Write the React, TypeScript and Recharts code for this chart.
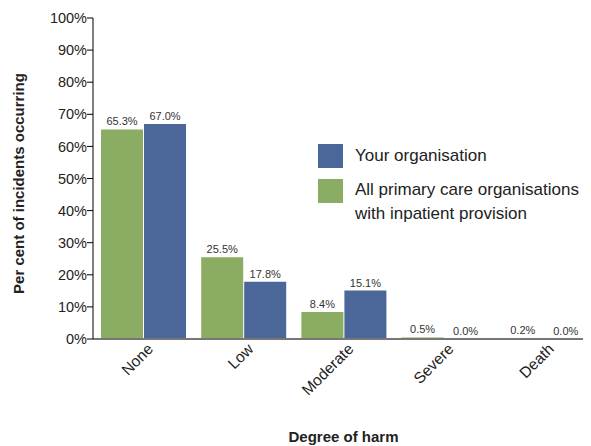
import React from "react";
import { BarChart, Bar, XAxis, YAxis, LabelList, Legend } from "recharts";

const categories = ["None", "Low", "Moderate", "Severe", "Death"];
const allPrimaryCare = [65.3, 25.5, 8.4, 0.5, 0.2];
const yourOrganisation = [67.0, 17.8, 15.1, 0.0, 0.0];
const yTicks = [0, 10, 20, 30, 40, 50, 60, 70, 80, 90, 100];

const GREEN = "#8AAD63";
const BLUE = "#4B6699";
const FONT = "'Liberation Sans', Arial, sans-serif";

const data = categories.map((c, i) => ({
  name: c,
  all: allPrimaryCare[i],
  yours: yourOrganisation[i],
}));

const fmt = (v: any) => `${Number(v).toFixed(1)}%`;

const XTick = (props: any) => {
  const { x, y, payload } = props;
  return (
    <text
      transform={`translate(${x + 11},${y + 3}) rotate(-45)`}
      textAnchor="end"
      fontSize={15.5}
      fontFamily={FONT}
      fill="#222"
    >
      {payload.value}
    </text>
  );
};

// Green label; also draws the blue series' label where its bar has zero height
const GreenLabel = (props: any) => {
  const { x, y, width, height, index, value } = props;
  const other = yourOrganisation[index];
  return (
    <g fontSize={11} fontFamily={FONT} fill="#333" textAnchor="middle">
      <text x={x + width / 2} y={y - 4}>{fmt(value)}</text>
      {other === 0 ? (
        <text x={x + width * 1.5 + 1} y={y + height - 4}>{fmt(other)}</text>
      ) : null}
    </g>
  );
};

const YLabel = (props: any) => {
  const vb = props.viewBox || {};
  const cx = 24;
  const cy = (vb.y ?? 18) + (vb.height ?? 321) / 2 + 5;
  return (
    <text
      transform={`rotate(-90, ${cx}, ${cy})`}
      x={cx}
      y={cy}
      textAnchor="middle"
      fontSize={15}
      fontWeight="bold"
      fill="#222"
      fontFamily={FONT}
    >
      Per cent of incidents occurring
    </text>
  );
};

const LegendContent = () => (
  <div style={{ position: "relative", width: 270, height: 90, fontFamily: FONT, fontSize: 17, color: "#222" }}>
    <div style={{ position: "absolute", left: 0, top: 0, width: 25, height: 24, background: BLUE }} />
    <div style={{ position: "absolute", left: 37, top: 0, lineHeight: "24px", whiteSpace: "nowrap" }}>Your organisation</div>
    <div style={{ position: "absolute", left: 0, top: 35, width: 25, height: 24, background: GREEN }} />
    <div style={{ position: "absolute", left: 37, top: 34, lineHeight: "24px", whiteSpace: "nowrap" }}>
      All primary care organisations
      <br />
      with inpatient provision
    </div>
  </div>
);

export default function App() {
  return (
    <div style={{ margin: "-8px 0 0 -8px", width: 591, height: 446 }}>
      <BarChart
        width={591}
        height={446}
        data={data}
        margin={{ top: 18, right: -3, bottom: 0, left: 0 }}
        barGap={1}
        barCategoryGap={8}
      >
        <XAxis
          dataKey="name"
          tick={<XTick />}
          tickLine={false}
          axisLine={{ stroke: "#777", strokeWidth: 2 }}
          interval={0}
          height={107}
          label={{ value: "Degree of harm", position: "insideBottom", offset: 0, dy: -4, fontSize: 15, fontWeight: "bold", fill: "#222", fontFamily: FONT }}
        />
        <YAxis
          domain={[0, 100]}
          ticks={yTicks}
          interval={0}
          tickFormatter={(v: number) => `${v}%`}
          tick={{ fontSize: 14.5, fill: "#222", fontFamily: FONT }}
          tickLine={{ stroke: "#000" }}
          tickSize={6}
          tickMargin={0}
          axisLine={{ stroke: "#000" }}
          width={93}
          label={<YLabel />}
        />
        <Legend
          layout="vertical"
          align="center"
          verticalAlign="middle"
          content={<LegendContent />}
          wrapperStyle={{ position: "absolute", left: 318, top: 144, width: 270, height: 90 }}
        />
        <Bar dataKey="all" name="All primary care organisations with inpatient provision" fill={GREEN} isAnimationActive={false}>
          <LabelList dataKey="all" content={<GreenLabel />} />
        </Bar>
        <Bar dataKey="yours" name="Your organisation" fill={BLUE} isAnimationActive={false}>
          <LabelList dataKey="yours" position="top" offset={4} formatter={fmt} fontSize={11} fill="#333" fontFamily={FONT} />
        </Bar>
      </BarChart>
    </div>
  );
}
